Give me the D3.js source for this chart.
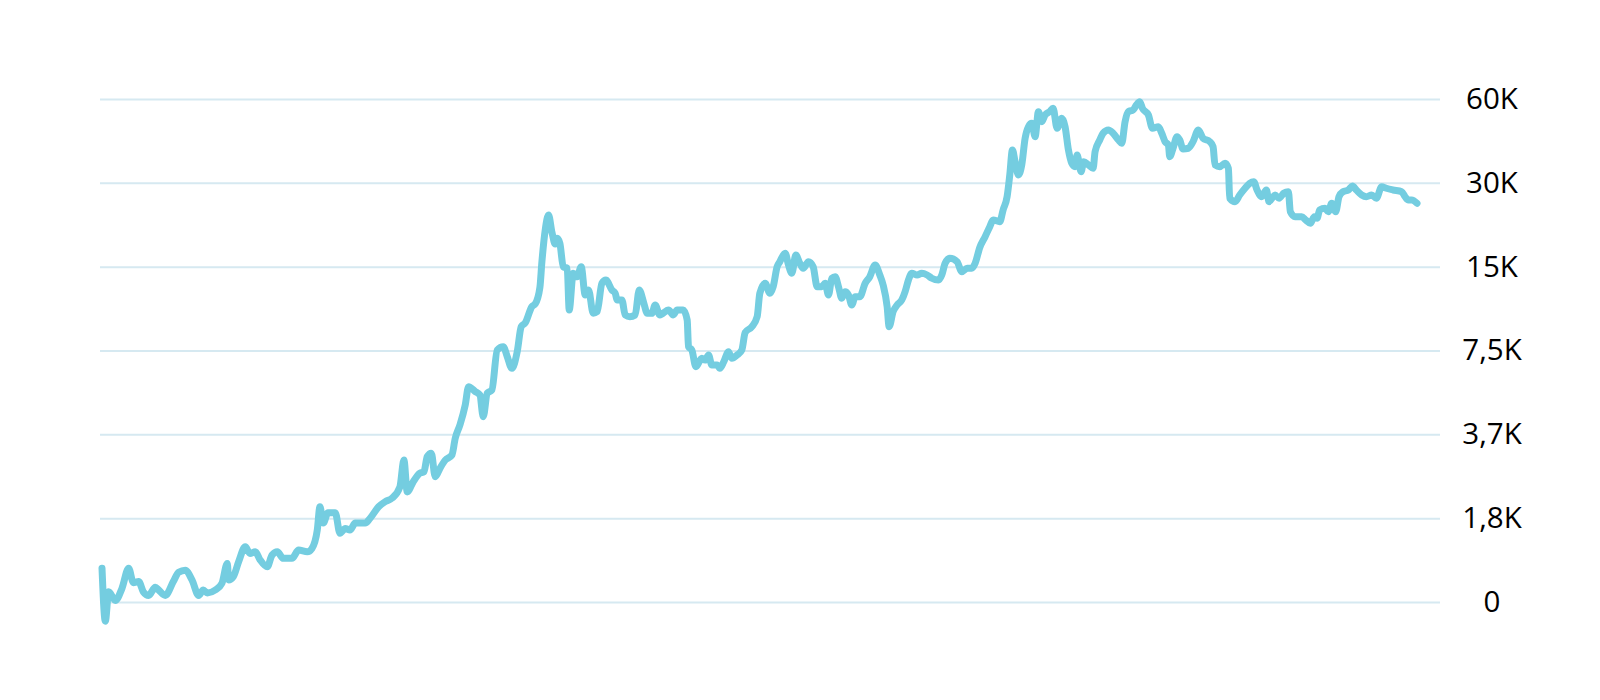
<!DOCTYPE html>
<html>
<head>
<meta charset="utf-8">
<script src="https://cdn.jsdelivr.net/npm/d3@7"></script>
<style>
  html, body { margin: 0; padding: 0; background: #fff; }
  .canvas text { font-family: "Open Sans", "Noto Sans", sans-serif; }
</style>
</head>
<body>
<div class="canvas"></div>
<script>
const width = 1600, height = 700

// days since the first point
const days = [0, 5, 10, 20, 30, 40, 47, 55, 62, 70, 80, 85, 95, 107, 115, 125, 135, 145, 152, 158,
  170, 180, 188, 190, 197, 205, 215, 222, 230, 237, 248, 255, 263, 272, 285, 295, 308, 315, 323, 327,
  332, 339, 350, 357, 365, 372, 380, 395, 402, 415, 425, 435, 447, 453, 458, 467, 477, 483, 488, 494,
  500, 507, 515, 525, 530, 537, 545, 550, 560, 567, 572, 578, 585, 593, 602, 608, 615, 623, 629, 635,
  645, 650, 657, 660, 665, 670, 675, 680, 683, 687, 692, 698, 701, 707, 713, 719, 725, 730, 737, 743,
  750, 756, 765, 770, 773, 780, 785, 792, 800, 806, 813, 818, 825, 830, 837, 850, 857, 863, 872, 878,
  880, 885, 891, 900, 905, 910, 915, 923, 927, 933, 940, 945, 953, 960, 965, 975, 983, 987, 995, 1002,
  1007, 1013, 1017, 1025, 1030, 1035, 1041, 1047, 1052, 1060, 1067, 1073, 1080, 1085, 1090, 1095, 1100, 1105, 1110, 1115,
  1120, 1125, 1130, 1137, 1145, 1152, 1160, 1167, 1172, 1178, 1181, 1187, 1193, 1200, 1205, 1210, 1215, 1223, 1230, 1238,
  1245, 1255, 1260, 1265, 1272, 1283, 1290, 1298, 1305, 1310, 1317, 1325, 1332, 1337, 1347, 1352, 1358, 1362, 1366, 1370,
  1375, 1380, 1385, 1390, 1395, 1400, 1405, 1410, 1415, 1422, 1427, 1433, 1440, 1445, 1450, 1455, 1460, 1463, 1469, 1473,
  1480, 1487, 1490, 1497, 1502, 1510, 1517, 1525, 1530, 1535, 1540, 1547, 1552, 1557, 1561, 1570, 1576, 1585, 1590, 1595,
  1600, 1602, 1607, 1613, 1617, 1622, 1630, 1637, 1645, 1652, 1662, 1667, 1670, 1677, 1685, 1690, 1692, 1700, 1707, 1715,
  1722, 1728, 1733, 1740, 1747, 1751, 1760, 1766, 1773, 1780, 1783, 1790, 1800, 1806, 1813, 1819, 1823, 1827, 1835, 1840,
  1845, 1851, 1856, 1862, 1870, 1876, 1882, 1890, 1897, 1905, 1912, 1920, 1927, 1937, 1950, 1955, 1960, 1965, 1973]

const prices = [1240, 800, 1020, 950, 1050, 1240, 1100, 1110, 1020, 990, 1060, 1035, 990, 1110, 1200, 1220, 1125, 990, 1035, 1010,
  1035, 1095, 1290, 1125, 1156, 1308, 1480, 1400, 1420, 1330, 1255, 1380, 1420, 1345, 1345, 1440, 1420, 1460, 1700, 2060,
  1800, 1960, 1960, 1655, 1720, 1700, 1800, 1800, 1870, 2060, 2150, 2210, 2430, 3030, 2330, 2535, 2720, 2750, 3120, 3210,
  2640, 2830, 3030, 3160, 3630, 4050, 4780, 5560, 5340, 5190, 4340, 5270, 5410, 7530, 7740, 7130, 6470, 7430, 9130, 9420,
  10780, 11020, 12630, 15590, 20320, 23000, 19990, 18090, 18970, 18200, 15000, 14800, 10490, 14200, 13810, 15000, 11870, 12370, 10200, 10340,
  13070, 13430, 12370, 12040, 11390, 11390, 10060, 9920, 10060, 12370, 11080, 10200, 10200, 10930, 10060, 10490, 10060, 10490, 10490, 9650,
  7740, 7530, 6560, 7030, 6930, 7230, 6650, 6650, 6470, 6840, 7430, 7030, 7230, 7530, 8700, 9130, 9920, 12040, 13070, 12040,
  12710, 15000, 15630, 16760, 15210, 14200, 16520, 15420, 14800, 15630, 15000, 12710, 12710, 13070, 11870, 13630, 13810, 12710, 11550, 12200,
  11870, 10930, 11700, 11700, 13070, 13810, 15210, 14000, 12890, 10780, 9130, 10340, 10930, 11390, 12200, 13430, 14200, 14000, 14200, 14000,
  13630, 13430, 14000, 15420, 16080, 15630, 14390, 14800, 14800, 15420, 17580, 19220, 20880, 22070, 21760, 23970, 26760, 32010, 39360, 35730,
  32010, 34770, 43360, 47730, 49090, 43940, 54040, 49740, 52580, 54040, 55570, 47100, 51160, 47730, 39360, 35270, 34290, 37760, 32900, 35730,
  34770, 33840, 38810, 42770, 45200, 46450, 45200, 42770, 41610, 49740, 54040, 54800, 57110, 58690, 55570, 52580, 47100, 47730, 45200, 42170,
  41030, 37240, 39930, 43940, 42770, 39700, 39930, 42170, 46450, 43360, 42170, 40450, 34770, 34290, 35270, 33840, 26410, 25680, 27130, 28680,
  29890, 30290, 28280, 26760, 28280, 25680, 27130, 26410, 27520, 27880, 23630, 22680, 22680, 22070, 21470, 22680, 22380, 23970, 24310, 23630,
  25340, 23630, 26760, 27880, 28280, 29230, 28280, 27130, 26760, 27130, 26410, 29060, 28680, 28280, 27880, 26760, 26040, 26040, 25340]

// y axis: each gridline doubles the previous one
const tickValues = [937.5, 1875, 3750, 7500, 15000, 30000, 60000]
const tickLabels = ['0', '1,8K', '3,7K', '7,5K', '15K', '30K', '60K']

const data = days.map((d, i) => ({ day: d, price: prices[i] }))

const svg = d3.select('.canvas').append('svg')
    .attr('width', width)
    .attr('height', height)

const [ml, mr, mt, mb] = [100, 1440, 99, 602]

const x = d3.scaleLinear().domain(d3.extent(days)).range([102, 1417])
const y = d3.scaleLog().domain([937.5, 60000]).range([mb, mt])

const yAxis = d3.axisRight(y)
    .tickValues(tickValues)
    .tickFormat((d, i) => tickLabels[i])
    .tickSize(-(mr - ml))

const yAxisG = svg.append('g')
    .attr('transform', `translate(${mr}, 0)`)
    .call(yAxis)

yAxisG.select('.domain').remove()
yAxisG.selectAll('.tick line')
    .attr('stroke', '#d6e9f1')
    .attr('stroke-width', 2)
yAxisG.selectAll('.tick text')
    .attr('x', 52)
    .attr('text-anchor', 'middle')
    .attr('fill', '#000')
    .style('font-size', '29.5px')
    .style('font-family', '"Open Sans", "Noto Sans", sans-serif')

const line = d3.line()
    .x(d => x(d.day))
    .y(d => y(d.price))
    .curve(d3.curveMonotoneX)

svg.append('path')
    .datum(data)
    .attr('d', line)
    .attr('fill', 'none')
    .attr('stroke', '#74cde0')
    .attr('stroke-width', 7)
    .attr('stroke-linejoin', 'round')
    .attr('stroke-linecap', 'round')
</script>
</body>
</html>
